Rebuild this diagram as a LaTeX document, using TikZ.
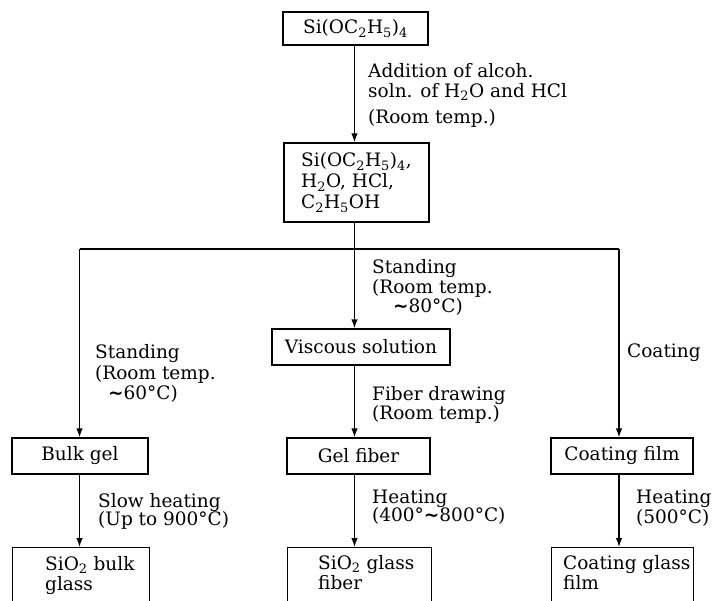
\documentclass[tikz,border=0pt]{standalone}
\usepackage{fontspec}
\setmainfont{DejaVu Serif}
\newfontfamily\symfont{DejaVu Sans}
\usetikzlibrary{arrows.meta}
\newcommand{\tld}{{\symfont\bfseries ∼}}
\newcommand{\sbs}[1]{\textsubscript{#1}}
\begin{document}
\begin{tikzpicture}[x=1pt,y=-1pt,
  every node/.style={font=\fontsize{18.5}{20}\selectfont, inner sep=0pt},
  box/.style={draw, line width=1.3pt},
  lbl/.style={anchor=north west, align=left, execute at begin node=\strut},
  conn/.style={line width=1.3pt},
  arr/.style={conn, -{Latex[length=9pt,width=6.5pt]}}]
\useasboundingbox (0,0) rectangle (712,600);
\fill[white] (0,0) rectangle (712,600);
\clip (0,0) rectangle (712,600);

% top boxes
\node[box, minimum width=145pt, minimum height=33pt] (n1) at (355.5,28.5) {Si(OC\sbs{2}H\sbs{5})\sbs{4}};
\node[box, minimum width=145pt, minimum height=79pt, align=left, font=\fontsize{18.5}{21}\selectfont] (n2) at (356.5,182.5)
  {Si(OC\sbs{2}H\sbs{5})\sbs{4},\\H\sbs{2}O, HCl,\\C\sbs{2}H\sbs{5}OH};

% middle row boxes
\node[box, minimum width=178pt, minimum height=36pt] (visc) at (361,347) {Viscous solution};
\node[box, minimum width=136pt, minimum height=36pt] (bulk) at (80,456) {Bulk gel};
\node[box, minimum width=143pt, minimum height=36pt] (gelf) at (358.5,456) {Gel fiber};
\node[box, minimum width=142pt, minimum height=36pt] (coatf) at (622,456) {Coating film};

% bottom boxes (cut by the lower edge)
\node[box, anchor=north west, minimum width=137pt, minimum height=90pt] (sbulk) at (12,547) {};
\node[box, anchor=north west, minimum width=144pt, minimum height=90pt] (sfib) at (287,547) {};
\node[box, anchor=north west, minimum width=142pt, minimum height=90pt] (cglass) at (551,547) {};
\node[lbl] (sbulkt) at (45,556) {SiO\sbs{2} bulk\\glass};
\node[lbl] (sfibt) at (318,555) {SiO\sbs{2} glass\\fiber};
\node[lbl] (cglasst) at (563,555) {Coating glass\\film};

% junction coordinates
\coordinate (j) at (354.5,249);
\coordinate (cL) at (79.5,249);
\coordinate (cR) at (619,249);

% connectors
\draw[arr] (j |- n1.south) -- (j |- n2.north);
\draw[conn] (j |- n2.south) -- (j);
\draw[conn] (cL) -- (cR);
\draw[arr] (j) -- (j |- visc.north);
\draw[arr] (j |- visc.south) -- (j |- gelf.north);
\draw[arr] (j |- gelf.south) -- (j |- sfib.north);
\draw[arr] (cL) -- (cL |- bulk.north);
\draw[arr] (cL |- bulk.south) -- (cL |- sbulk.north);
\draw[arr] (cR) -- (cR |- coatf.north);
\draw[arr] (cR |- coatf.south) -- (cR |- cglass.north);

% labels
\node[lbl] (la) at (368,63) {Addition of alcoh.\\soln. of H\sbs{2}O and HCl\\[6pt](Room temp.)};
\node[lbl] (lm) at (372,259) {Standing\\(Room temp.\\[-1pt]\hspace*{21pt}\tld 80°C)};
\node[lbl] (ll) at (95,344) {Standing\\[1pt](Room temp.\\\hspace*{13pt}\tld 60°C)};
\node[lbl] (lr) at (627,343) {Coating};
\node[lbl] (lf) at (372,386) {Fiber drawing\\[-1pt](Room temp.)};
\node[lbl] (ls) at (98,493) {Slow heating\\[-2pt](Up to 900°C)};
\node[lbl] (lh) at (372,490) {Heating\\[-2pt](400°\tld 800°C)};
\node[lbl] (lh2) at (636,490) {Heating\\(500°C)};
\end{tikzpicture}
\end{document}
